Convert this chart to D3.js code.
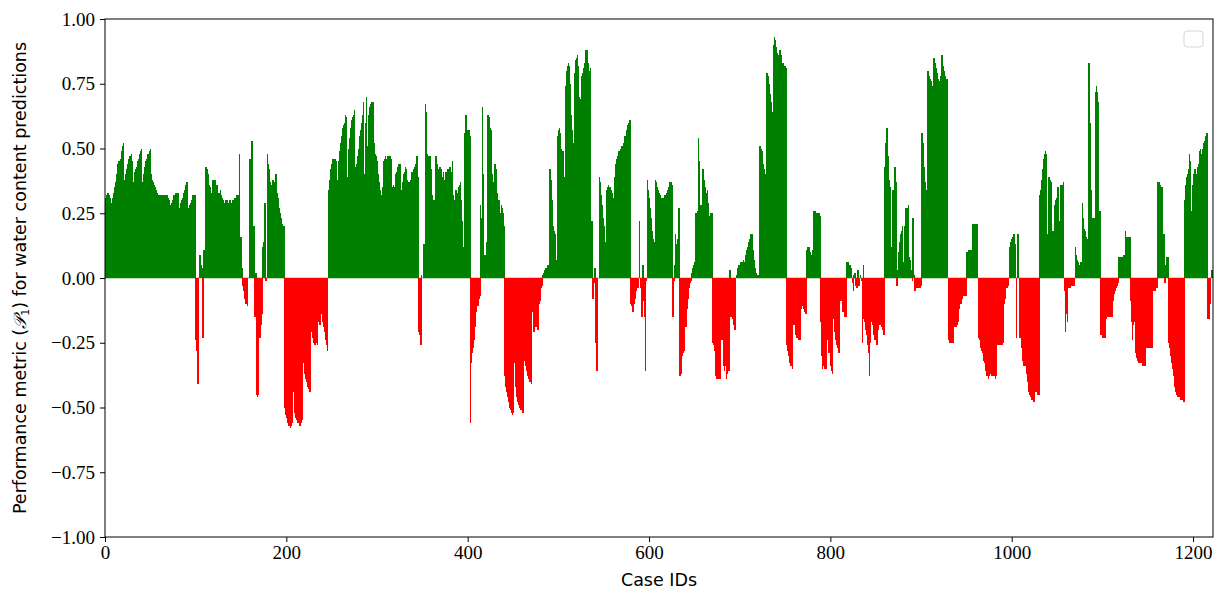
<!DOCTYPE html>
<html>
<head>
<meta charset="utf-8">
<script src="https://cdn.jsdelivr.net/npm/d3@7"></script>
<style>
  body { margin: 0; background: #fff; }
  .tick text { font-family: "Liberation Serif", serif; font-size: 19px; fill: #000; }
  .tick line { stroke: #000; }
  .label { font-family: "DejaVu Sans", sans-serif; font-size: 17.5px; fill: #000; }
</style>
</head>
<body>
<svg id="drawing_region"></svg>
<script>
// performance metric P1 per case id
const cases0 = [
 .30,.31,.32,.33,.32,.31,.30,.29,.31,.33,
 .35,.36,.37,.40,.44,.45,.41,.46,.49,.51,
 .52,.36,.38,.40,.42,.44,.46,.47,.46,.48,
 .45,.37,.39,.41,.42,.43,.45,.46,.48,.49,
 .50,.37,.40,.42,.43,.45,.46,.48,.44,.49,
 .50,.40,.38,.37,.36,.35,.34,.33,.32,.32,
 .32,.32,.32,.32,.31,.32,.32,.31,.32,.31,
 .30,.28,.28,.29,.30,.31,.32,.32,.33,.33,
 .33,.27,.27,.29,.30,.31,.33,.32,.34,.36,
 .37,.26,.27,.28,.29,.30,.31,.32,.32,.32,
 -.24,-.28,-.41,-.37,.09,.09,.05,.04,-.23,.11,
 .11,.43,.42,.40,.37,.36,.35,.33,.38,.36,
 .38,.38,.36,.36,.34,.33,.33,.34,.32,.31,
 .30,.29,.29,.30,.30,.29,.29,.30,.30,.29,
 .28,.30,.30,.31,.31,.32,.32,.32,.48,.16,
 .16,.04,-.03,-.05,-.08,-.10,-.10,-.11,0,.46,
 .46,.35,.53,.15,.20,-.15,.02,-.45,-.46,-.45,
 -.23,-.23,-.18,-.14,.12,.14,.29,-.01,0,.48,
 .44,.42,.37,.36,.35,.38,.36,.37,.40,.40,
 .33,.31,.27,.25,.23,.21,.20,.20,-.50,-.53
];
const cases200 = [
 -.54,-.56,-.57,-.57,-.58,-.57,-.56,-.43,-.44,-.52,
 -.54,-.55,-.56,-.56,-.57,-.57,-.56,-.55,-.31,-.33,
 -.37,-.39,-.40,-.42,-.43,-.43,-.44,-.19,-.21,-.23,
 -.25,-.26,-.26,-.25,-.26,-.17,-.16,-.18,-.13,-.14,
 -.17,-.19,-.21,-.24,-.26,-.28,.34,.36,.38,.42,
 .44,.46,.46,.46,.46,.45,.38,.41,.45,.49,
 .52,.55,.58,.59,.60,.63,.62,.39,.45,.50,
 .54,.58,.61,.62,.63,.65,.43,.44,.47,.46,
 .50,.55,.57,.60,.63,.68,.40,.60,.70,.44,
 .51,.63,.66,.67,.68,.68,.67,.52,.48,.47,
 .45,.40,.37,.34,.32,.31,.35,.45,.46,.47,
 .46,.47,.47,.47,.47,.46,.34,.35,.36,.35,
 .40,.41,.42,.43,.44,.44,.33,.34,.37,.40,
 .41,.43,.42,.38,.36,.37,.36,.38,.41,.40,
 .42,.43,.44,.45,.47,.39,-.21,-.22,-.26,.01,
 0,.13,.13,.67,.64,.48,.47,.46,.47,.42,
 .36,.32,.30,.30,.34,.47,.44,.42,.40,.43,
 .42,.41,.39,.41,.38,.40,.41,.41,.42,.42,
 .43,.41,.40,.45,.32,.30,.32,.34,.33,.33,
 .35,.36,.37,.30,.22,.12,.56,.57,.63,.10
];
const cases400 = [
 .57,.57,.55,-.56,-.33,-.29,-.27,-.24,-.19,-.13,
 -.11,-.11,-.08,-.07,.28,.23,.66,.40,.09,.08,
 .09,.14,.63,.62,.61,.58,.57,.40,.37,.33,
 .44,.42,.33,.30,.30,.27,.25,.28,.27,.25,
 .20,-.38,-.42,-.44,-.46,-.48,-.50,-.51,-.52,-.53,
 -.52,-.32,-.33,-.42,-.46,-.48,-.49,-.50,-.51,-.51,
 -.52,-.52,-.11,-.32,-.34,-.36,-.38,-.39,-.40,-.40,
 -.41,-.13,-.18,-.21,-.19,-.18,-.19,-.20,-.11,-.10,
 -.09,-.04,-.03,.01,.02,.03,.04,.04,.05,.02,
 .42,.42,.38,.30,.20,.18,.17,.07,.02,.55,
 .57,.58,.56,.50,.36,.49,.39,.30,.74,.80,
 .82,.83,.82,.75,.63,.57,.52,.51,.79,.84,
 .85,.86,.82,.70,.69,.64,.78,.79,.81,.83,
 .88,.88,.86,.83,.80,.81,.21,.22,-.08,-.02,
 .04,-.25,-.36,-.36,0,.39,.37,.32,.28,.23,
 .20,.14,.11,.34,.35,.36,.35,.35,.34,.33,
 .31,.31,.39,.44,.46,.47,.49,.49,.50,.50,
 .51,.51,.52,.55,.55,.57,.59,.60,.61,.61,
 -.10,-.11,-.13,-.10,-.08,-.06,-.05,-.04,-.04,.22,
 -.01,-.04,-.15,.05,-.09,-.15,-.36,-.01,.38,.34
];
const cases600 = [
 .31,.27,.23,.18,.15,.14,.12,.38,.37,.35,
 .34,.33,.32,.31,.31,.31,.31,.32,.32,.33,
 .34,.35,.36,.37,.37,.36,-.15,-.01,.05,.17,
 .13,.15,.16,.27,-.38,-.37,-.30,-.29,-.28,-.24,
 -.19,-.19,-.12,-.08,-.04,-.02,-.01,.02,.04,.05,
 .06,.25,.25,.26,.54,.45,.25,.28,.25,.42,
 .41,.38,.35,.33,.34,.29,.24,.22,.25,.25,
 -.25,-.26,-.28,-.38,-.39,-.39,-.39,-.39,-.39,-.15,
 -.24,-.24,-.34,-.36,-.34,-.39,-.37,-.36,-.36,.03,
 -.15,-.14,-.16,-.18,-.20,-.20,.01,.03,.04,.05,
 .05,.06,.06,.06,.07,.06,.09,.09,.11,.12,
 .14,.15,.17,.17,.13,.11,.07,.04,.02,.01,
 .01,.01,.51,.50,.49,.47,.44,.42,.40,.39,
 .79,.78,.75,.71,.68,.66,.64,.90,.93,.92,
 .89,.87,.86,.81,.88,.86,.84,.83,.83,.82,
 .82,.81,-.26,-.28,-.30,-.33,-.34,-.34,-.35,-.18,
 -.18,-.20,-.22,-.23,-.23,-.24,-.24,-.12,-.11,-.11,
 -.12,-.13,-.13,-.14,.11,.12,.12,.10,.09,.09,
 .11,.26,.26,.26,.25,.25,.25,.25,.24,-.17,
 -.30,-.35,-.34,-.33,-.35,-.35,-.13,-.24,-.29,-.25
];
const cases800 = [
 -.34,-.36,-.37,-.16,-.16,-.21,-.24,-.26,-.27,-.29,
 -.12,-.09,-.09,-.13,-.13,-.14,-.15,-.15,.06,.06,
 .04,.05,.05,.04,-.02,-.05,.01,.02,-.03,-.04,
 .03,-.03,-.01,.01,-.01,-.25,.05,-.16,-.17,-.20,
 -.22,-.26,-.29,-.38,-.25,-.17,-.18,-.19,-.22,-.24,
 -.23,-.26,-.20,-.18,-.18,-.18,-.19,-.20,-.22,-.22,
 .43,.52,.58,.47,.42,.38,.35,.12,.34,.34,
 .34,.43,.37,-.03,.03,.10,.14,.17,.18,.20,
 .05,.06,.20,.27,.25,.27,.28,.08,.07,.03,
 -.01,.23,.01,-.05,-.04,-.04,-.04,-.04,-.04,-.04,
 -.03,.56,.52,.43,.37,.34,.30,.80,.80,.78,
 .77,.76,.74,.74,.85,.83,.81,.79,.78,.77,
 .76,.78,.85,.86,.82,.80,.78,.77,.77,.77,
 -.24,-.25,-.25,-.25,-.25,-.25,-.19,-.19,-.19,-.18,
 -.18,-.17,-.12,-.10,-.10,-.08,-.07,-.07,-.07,-.07,
 .10,.10,.11,.11,.11,.11,.11,.21,.21,.21,
 .21,.21,.21,-.23,-.24,-.25,-.27,-.28,-.29,-.32,
 -.33,-.36,-.38,-.38,-.39,-.38,-.37,-.37,-.38,-.37,
 -.38,-.37,-.39,-.38,-.26,-.26,-.26,-.26,-.26,-.26,
 -.25,-.10,-.08,-.06,-.04,-.04,-.03,.11,.12,.14
];
const cases1000 = [
 .15,.16,.17,.17,.13,-.23,.17,.17,-.04,-.23,
 -.23,-.27,-.32,-.34,-.34,-.34,-.37,-.40,-.42,-.44,
 -.45,-.46,-.47,-.47,-.48,-.46,-.44,-.44,-.45,-.45,
 -.45,.32,.34,.38,.42,.46,.48,.49,.48,.17,
 .36,.39,.38,.37,.17,.18,.17,.28,.30,.31,
 .34,.35,.22,.21,.36,.33,.36,.37,-.05,-.21,
 -.14,-.17,-.04,-.04,-.04,-.03,-.03,-.03,-.03,-.03,
 .12,.09,.07,.06,.05,.05,.06,.06,.29,.23,
 .19,.18,.16,.15,.13,.83,.60,.34,.23,.22,
 .23,.23,.72,.74,.72,.68,.26,.26,-.22,-.22,
 -.23,-.23,-.23,-.23,-.16,-.15,-.15,-.15,-.15,-.15,
 -.15,-.13,-.09,-.06,-.05,-.04,-.03,-.02,.08,.08,
 .08,.08,.08,.09,.09,.18,.16,.16,.16,.16,
 .16,-.09,-.17,-.24,-.18,-.17,-.25,-.29,-.31,-.32,
 -.33,-.33,-.33,-.33,-.34,-.34,-.34,-.34,-.27,-.27,
 -.27,-.27,-.27,-.27,-.27,-.27,-.05,-.05,-.05,-.04,
 -.04,.37,.37,.36,.36,.35,.35,.17,.17,-.02,
 .05,.08,.08,-.25,-.27,-.30,-.33,-.35,-.38,-.40,
 -.42,-.44,-.45,-.46,-.46,-.46,-.47,-.47,-.47,-.48,
 -.48,.30,.36,.39,.40,.42,.48,.45,.26,.36,
 .40,.41,.42,.32,.40,.43,.44,.49,.50,.48,
 .50,.51,.52,.53,.55,.56,-.16,-.16,-.10,-.10,
 .03,.03
];

const xTicks = [0, 200, 400, 600, 800, 1000, 1200];
const yTicks = [-1, -0.75, -0.5, -0.25, 0, 0.25, 0.5, 0.75, 1];

const values = [].concat(cases0, cases200, cases400, cases600, cases800, cases1000);
const data = values.map((v, i) => ({ id: i, value: v }));

const config = {
    width: 1222,
    height: 596,
    margin: {top: 19, right: 9, bottom: 59, left: 105}
};

const svg = d3.select('#drawing_region')
    .attr('width', config.width)
    .attr('height', config.height);

const inner_width = config.width - config.margin.left - config.margin.right;
const inner_height = config.height - config.margin.top - config.margin.bottom;

const chart = svg.append('g')
    .attr('transform', `translate(${config.margin.left}, ${config.margin.top})`);

const xscale = d3.scaleLinear().domain([0, 1222]).range([0, inner_width]);
const yscale = d3.scaleLinear().domain([-1, 1]).range([inner_height, 0]);

svg.append('defs').append('clipPath').attr('id', 'plot_clip')
    .append('rect').attr('width', inner_width).attr('height', inner_height);

const plot = chart.append('g').attr('clip-path', 'url(#plot_clip)');

// faint baseline visible where bars are zero
plot.append('line')
    .attr('x1', 0).attr('x2', inner_width)
    .attr('y1', yscale(0)).attr('y2', yscale(0))
    .attr('stroke', '#7fbf7f').attr('stroke-width', 1);

const bw = xscale(1) - xscale(0);
plot.selectAll('rect.bar')
    .data(data)
    .join('rect')
    .attr('class', 'bar')
    .attr('x', d => xscale(d.id - 0.5))
    .attr('width', bw + 0.6)
    .attr('y', d => d.value >= 0 ? yscale(d.value) : yscale(0))
    .attr('height', d => Math.abs(yscale(d.value) - yscale(0)))
    .attr('fill', d => d.value >= 0 ? 'green' : 'red')
    .attr('shape-rendering', 'crispEdges');

const xaxis = d3.axisBottom(xscale)
    .tickValues(xTicks)
    .tickFormat(d3.format('d'))
    .tickSize(5)
    .tickPadding(4);
chart.append('g')
    .attr('transform', `translate(0, ${inner_height})`)
    .call(xaxis)
    .call(g => g.select('.domain').remove());

const yaxis = d3.axisLeft(yscale)
    .tickValues(yTicks)
    .tickFormat(d3.format('.2f'))
    .tickSize(5)
    .tickPadding(5);
chart.append('g')
    .call(yaxis)
    .call(g => g.select('.domain').remove());

chart.append('rect')
    .attr('width', inner_width)
    .attr('height', inner_height)
    .attr('fill', 'none')
    .attr('stroke', '#000')
    .attr('stroke-width', 1);

// empty legend box
chart.append('rect')
    .attr('x', inner_width - 29).attr('y', 12)
    .attr('width', 19).attr('height', 16)
    .attr('rx', 3)
    .attr('fill', '#fff')
    .attr('stroke', '#d6d6d6')
    .attr('stroke-width', 1);

svg.append('text')
    .attr('class', 'label')
    .attr('x', config.margin.left + inner_width / 2)
    .attr('y', 586)
    .attr('text-anchor', 'middle')
    .text('Case IDs');

const ylab = svg.append('text')
    .attr('class', 'label')
    .attr('transform', `translate(26, ${config.margin.top + inner_height / 2}) rotate(-90)`)
    .attr('text-anchor', 'middle');
ylab.append('tspan').text('Performance metric (');
ylab.append('tspan').attr('font-family', 'DejaVu Serif, serif').attr('font-style', 'italic').text('\u{1D4AB}');
ylab.append('tspan').attr('font-size', '11px').attr('dy', 3).text('1');
ylab.append('tspan').attr('dy', -3).text(') for water content  predictions');
</script>
</body>
</html>
